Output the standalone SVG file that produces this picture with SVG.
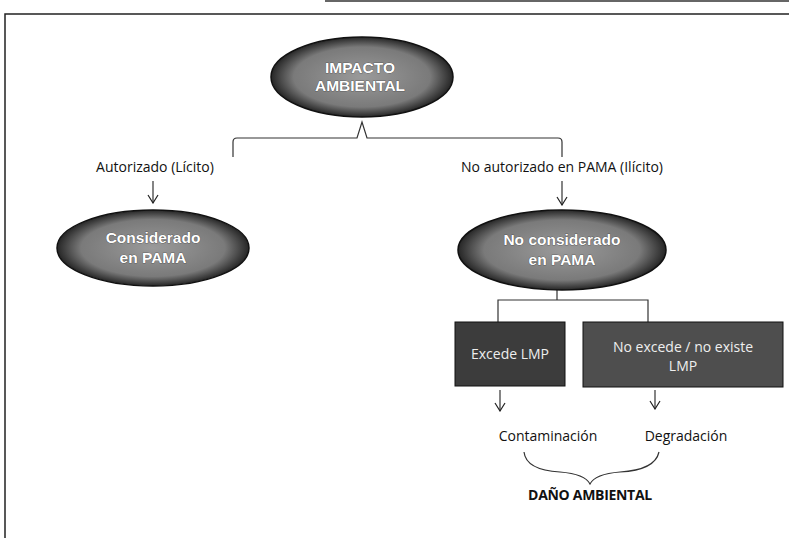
<svg xmlns="http://www.w3.org/2000/svg" width="789" height="538" viewBox="0 0 789 538">
<defs>
<radialGradient id="eg" cx="50%" cy="50%" r="50%">
<stop offset="0" stop-color="#9a9a9a"/>
<stop offset="0.75" stop-color="#7a7a7a"/>
<stop offset="1" stop-color="#262626"/>
</radialGradient>
<marker id="ar" markerWidth="10" markerHeight="12" refX="9" refY="6" orient="auto" markerUnits="userSpaceOnUse" viewBox="0 0 10 12">
<path d="M1,1 L9,6 L1,11" fill="none" stroke="#222" stroke-width="1.2"/>
</marker>
</defs>
<style>
.ell{fill:url(#eg);stroke:#111;stroke-width:1.5}
.box{stroke:#111;stroke-width:1}
.et{font-family:"Liberation Sans",Arial,sans-serif;font-weight:bold;font-size:15.5px;fill:#fff;text-anchor:middle;stroke:#333;stroke-width:0.6;paint-order:stroke}
.bt{font-family:"Open Sans","Liberation Sans",sans-serif;font-size:14px;fill:#eee;text-anchor:middle}
.lb{font-family:"Open Sans","Liberation Sans",sans-serif;font-size:14px;fill:#111;text-anchor:middle}
.ln{fill:none;stroke:#333;stroke-width:1.2}
</style>
<rect width="789" height="538" fill="#fff"/>
<g id="frame">
<path d="M5,538 V14 H789" fill="none" stroke="#222" stroke-width="1.5"/>
<path d="M325,1 H789" fill="none" stroke="#333" stroke-width="1.5"/>
</g>
<g id="connectors">
<path class="ln" d="M233,157 V142 Q233,138 237,138 H357 L362,122 L367,138 H558 Q562,138 562,142 V157"/>
<path class="ln" d="M153,181 V203" marker-end="url(#ar)"/>
<path class="ln" d="M562,181 V205" marker-end="url(#ar)"/>
<path class="ln" d="M557,290 V300 M498,322 V300 H648 V322"/>
<path class="ln" d="M500,390 V411" marker-end="url(#ar)"/>
<path class="ln" d="M655,390 V409" marker-end="url(#ar)"/>
<path class="ln" d="M524,452 Q526,470 560,472 Q585,474 590,484 Q595,474 620,472 Q655,470 659,452"/>
</g>
<g id="impacto">
<ellipse class="ell" cx="362" cy="77" rx="91" ry="40"/>
<text class="et" x="360" y="73">IMPACTO</text>
<text class="et" x="360" y="91">AMBIENTAL</text>
</g>
<g id="lbl-autorizado"><text class="lb" x="155" y="172">Autorizado (Lícito)</text></g>
<g id="lbl-noautorizado"><text class="lb" x="562" y="172">No autorizado en PAMA (Ilícito)</text></g>
<g id="considerado">
<ellipse class="ell" cx="153" cy="248" rx="96" ry="38"/>
<text class="et" x="153" y="243">Considerado</text>
<text class="et" x="153" y="263">en PAMA</text>
</g>
<g id="noconsiderado">
<ellipse class="ell" cx="562" cy="250" rx="104" ry="40"/>
<text class="et" x="562" y="245">No considerado</text>
<text class="et" x="562" y="265">en PAMA</text>
</g>
<g id="excede">
<rect class="box" x="455" y="322" width="110" height="64" fill="#3c3c3c"/>
<text class="bt" x="510" y="359">Excede LMP</text>
</g>
<g id="noexcede">
<rect class="box" x="583" y="322" width="200" height="65" fill="#4e4e4e"/>
<text class="bt" x="683" y="352">No excede / no existe</text>
<text class="bt" x="683" y="371">LMP</text>
</g>
<g id="contaminacion"><text class="lb" x="548" y="441">Contaminación</text></g>
<g id="degradacion"><text class="lb" x="686" y="441">Degradación</text></g>
<g id="dano"><text class="lb" x="590" y="500" font-weight="bold" font-size="12" letter-spacing="-0.3">DAÑO AMBIENTAL</text></g>
</svg>
